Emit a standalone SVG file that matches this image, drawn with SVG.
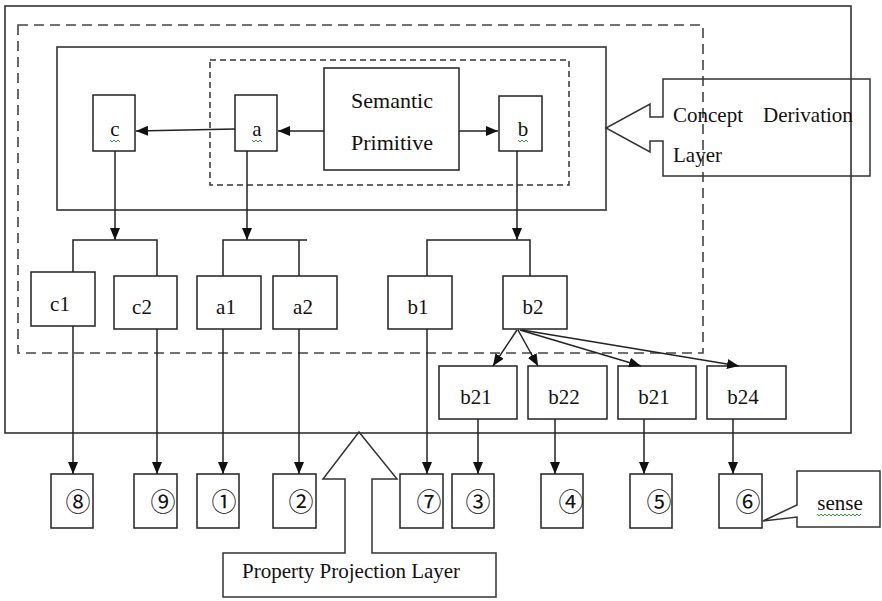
<svg xmlns="http://www.w3.org/2000/svg" width="882" height="601" viewBox="0 0 882 601">
  <style>
    .frame { fill: none; stroke: #333; stroke-width: 1.6; }
    .dash-l { fill: none; stroke: #444; stroke-width: 1.6; stroke-dasharray: 10 6; }
    .dash-s { fill: none; stroke: #333; stroke-width: 1.5; stroke-dasharray: 6 4; }
    .box { fill: #fff; stroke: #222; stroke-width: 1.5; }
    .callout { fill: none; stroke: #333; stroke-width: 1.5; }
    .wire { fill: none; stroke: #222; stroke-width: 1.5; }
    .arrow { fill: none; stroke: #222; stroke-width: 1.5; marker-end: url(#head); }
    .lbl { font-family: "Liberation Serif", "Times New Roman", serif; font-size: 21px; fill: #111; text-anchor: middle; }
    .lbl-l { font-family: "Liberation Serif", "Times New Roman", serif; font-size: 21px; fill: #111; }
    .big { font-size: 22px; }
    .num { font-family: "Noto Sans CJK SC", "DejaVu Sans", sans-serif; font-size: 25px; fill: #111; text-anchor: middle; }
    .squig { fill: none; stroke: #3a9a3a; stroke-width: 1; }
  </style>
  <defs>
    <marker id="head" markerUnits="userSpaceOnUse" markerWidth="12" markerHeight="10" refX="12" refY="5" orient="auto">
      <path d="M0,0 L12,5 L0,10 Z" fill="#111"/>
    </marker>
  </defs>

  <rect width="882" height="601" fill="#fff"/>

  <!-- layer frames -->
  <g id="layers">
    <rect class="frame" x="5" y="6" width="846" height="427"/>
    <rect class="dash-l" x="18" y="25" width="685" height="328"/>
    <rect class="frame" x="57" y="47" width="549" height="163"/>
    <rect class="dash-s" x="210" y="60" width="359" height="125"/>
  </g>

  <!-- concept nodes -->
  <g id="node-sp">
    <rect class="box" x="324" y="68" width="135" height="102"/>
    <text class="lbl big" x="392" y="108">Semantic</text>
    <text class="lbl big" x="392" y="150">Primitive</text>
  </g>
  <g id="node-c">
    <rect class="box" x="93" y="95" width="42" height="56"/>
    <text class="lbl" x="115" y="136">c</text>
    <path class="squig" d="M110,140 l2,2 l2,-2 l2,2 l2,-2 l2,2"/>
  </g>
  <g id="node-a">
    <rect class="box" x="235" y="95" width="42" height="56"/>
    <text class="lbl" x="257" y="136">a</text>
    <path class="squig" d="M252,140 l2,2 l2,-2 l2,2 l2,-2 l2,2"/>
  </g>
  <g id="node-b">
    <rect class="box" x="499" y="96" width="43" height="55"/>
    <text class="lbl" x="523" y="136">b</text>
    <path class="squig" d="M518,140 l2,2 l2,-2 l2,2 l2,-2 l2,2"/>
  </g>

  <!-- derived nodes -->
  <g id="node-c1"><rect class="box" x="31" y="272" width="64" height="54"/><text class="lbl" x="60" y="311">c1</text></g>
  <g id="node-c2"><rect class="box" x="114" y="276" width="63" height="53"/><text class="lbl" x="142" y="314">c2</text></g>
  <g id="node-a1"><rect class="box" x="197" y="276" width="64" height="53"/><text class="lbl" x="226" y="314">a1</text></g>
  <g id="node-a2"><rect class="box" x="273" y="276" width="64" height="53"/><text class="lbl" x="303" y="314">a2</text></g>
  <g id="node-b1"><rect class="box" x="388" y="276" width="64" height="53"/><text class="lbl" x="418" y="314">b1</text></g>
  <g id="node-b2"><rect class="box" x="503" y="276" width="64" height="53"/><text class="lbl" x="533" y="314">b2</text></g>

  <g id="node-b21"><rect class="box" x="439" y="366" width="78" height="53"/><text class="lbl" x="476" y="404">b21</text></g>
  <g id="node-b22"><rect class="box" x="528" y="366" width="79" height="53"/><text class="lbl" x="564" y="404">b22</text></g>
  <g id="node-b23"><rect class="box" x="618" y="366" width="78" height="53"/><text class="lbl" x="654" y="404">b21</text></g>
  <g id="node-b24"><rect class="box" x="707" y="366" width="79" height="53"/><text class="lbl" x="743" y="404">b24</text></g>

  <!-- senses -->
  <g id="sense-8"><rect class="box" x="51" y="474" width="42" height="54"/><text class="num" x="78" y="511">⑧</text></g>
  <g id="sense-9"><rect class="box" x="134" y="474" width="43" height="54"/><text class="num" x="163" y="511">⑨</text></g>
  <g id="sense-1"><rect class="box" x="197" y="474" width="42" height="54"/><text class="num" x="224" y="511">①</text></g>
  <g id="sense-2"><rect class="box" x="273" y="474" width="43" height="54"/><text class="num" x="301" y="511">②</text></g>
  <g id="sense-7"><rect class="box" x="400" y="474" width="43" height="54"/><text class="num" x="429" y="511">⑦</text></g>
  <g id="sense-3"><rect class="box" x="452" y="474" width="42" height="54"/><text class="num" x="478" y="511">③</text></g>
  <g id="sense-4"><rect class="box" x="541" y="474" width="42" height="54"/><text class="num" x="571" y="511">④</text></g>
  <g id="sense-5"><rect class="box" x="630" y="474" width="42" height="54"/><text class="num" x="659" y="511">⑤</text></g>
  <g id="sense-6"><rect class="box" x="719" y="474" width="43" height="54"/><text class="num" x="748" y="511">⑥</text></g>

  <!-- connectors -->
  <g id="connectors">
    <!-- derivation from the primitive -->
    <line class="arrow" x1="324" y1="131" x2="278" y2="131"/>
    <line class="arrow" x1="235" y1="129" x2="136" y2="131"/>
    <line class="arrow" x1="459" y1="131" x2="498" y2="131"/>

    <!-- brackets -->
    <line class="arrow" x1="115" y1="151" x2="115" y2="240"/>
    <path class="wire" d="M73,272 V240 H157 V276"/>
    <line class="arrow" x1="247" y1="151" x2="247" y2="240"/>
    <path class="wire" d="M223,276 V240 H307 M299,240 V276"/>
    <line class="arrow" x1="517" y1="151" x2="517" y2="240"/>
    <path class="wire" d="M427,276 V240 H530 V276"/>

    <!-- b2 fan-out -->
    <line class="arrow" x1="517" y1="330" x2="493" y2="366"/>
    <line class="arrow" x1="518" y1="330" x2="538" y2="366"/>
    <line class="arrow" x1="520" y1="330" x2="641" y2="366"/>
    <line class="arrow" x1="522" y1="330" x2="739" y2="366"/>

    <!-- projection to senses -->
    <line class="arrow" x1="73" y1="326" x2="73" y2="474"/>
    <line class="arrow" x1="157" y1="329" x2="157" y2="474"/>
    <line class="arrow" x1="223" y1="329" x2="223" y2="474"/>
    <line class="arrow" x1="299" y1="329" x2="299" y2="474"/>
    <line class="arrow" x1="427" y1="329" x2="427" y2="474"/>
    <line class="arrow" x1="478" y1="419" x2="478" y2="474"/>
    <line class="arrow" x1="555" y1="419" x2="555" y2="474"/>
    <line class="arrow" x1="644" y1="419" x2="644" y2="474"/>
    <line class="arrow" x1="733" y1="419" x2="733" y2="474"/>
  </g>

  <!-- layer callouts -->
  <g id="callout-concept">
    <path class="callout" d="M663,79 H870 V176 H663 V141 H650 V152 L606,128 L650,104 V117 H663 Z"/>
    <text class="lbl-l" x="673" y="122">Concept</text>
    <text class="lbl-l" x="763" y="122">Derivation</text>
    <text class="lbl-l" x="673" y="162">Layer</text>
  </g>
  <g id="callout-property">
    <path class="callout" d="M223,553 H345 V479 H323 L359,432 L397,479 H372 V553 H496 V597 H223 Z"/>
    <text class="lbl-l" x="242" y="578">Property Projection Layer</text>
  </g>
  <g id="callout-sense">
    <path class="callout" d="M797,471 H880 V527 H797 V517 L763,521 L797,505 Z"/>
    <text class="lbl" x="840" y="510">sense</text>
    <path class="squig" d="M817,514 l2,2 l2,-2 l2,2 l2,-2 l2,2 l2,-2 l2,2 l2,-2 l2,2 l2,-2 l2,2 l2,-2 l2,2 l2,-2 l2,2 l2,-2 l2,2 l2,-2 l2,2 l2,-2 l2,2 l2,-2"/>
  </g>
</svg>
